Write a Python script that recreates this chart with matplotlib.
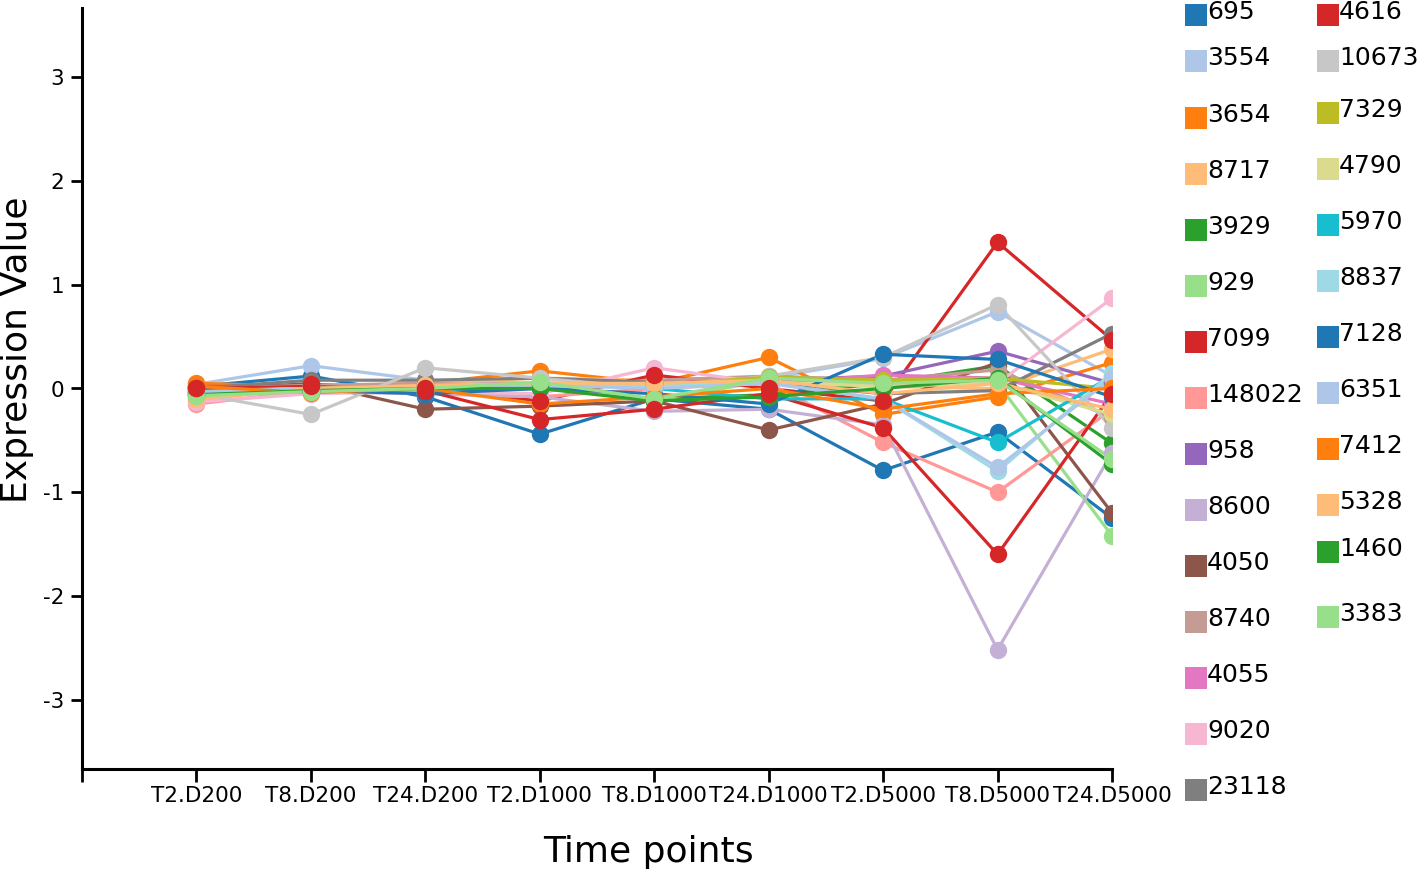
import matplotlib
matplotlib.use('Agg')
import matplotlib.pyplot as plt
from matplotlib.patches import Rectangle

time_points = ['T2.D200', 'T8.D200', 'T24.D200', 'T2.D1000', 'T8.D1000',
               'T24.D1000', 'T2.D5000', 'T8.D5000', 'T24.D5000']

genes = ['695', '3554', '3654', '8717', '3929', '929', '7099', '148022', '958',
         '8600', '4050', '8740', '4055', '9020', '23118',
         '4616', '10673', '7329', '4790', '5970', '8837', '7128', '6351',
         '7412', '5328', '1460', '3383']

# expression values per gene, one per time point
v_695 = [0.02, 0.12, -0.08, -0.44, -0.10, -0.20, -0.79, -0.42, -1.25]
v_3554 = [0.04, 0.22, 0.08, 0.05, 0.02, 0.10, 0.29, 0.74, 0.12]
v_3654 = [0.05, 0.02, 0.05, 0.17, 0.05, 0.30, -0.25, -0.08, 0.25]
v_8717 = [-0.12, 0.02, 0.05, 0.10, 0.08, 0.05, 0.02, 0.00, 0.38]
v_3929 = [-0.05, -0.03, -0.03, 0.02, -0.10, -0.06, 0.05, 0.22, -0.53]
v_929 = [-0.08, -0.02, 0.02, 0.05, -0.12, 0.08, 0.03, 0.05, -1.42]
v_7099 = [0.00, 0.04, 0.00, -0.12, 0.13, 0.00, -0.12, 1.41, 0.47]
v_148022 = [-0.15, -0.02, -0.05, -0.08, 0.00, 0.05, -0.52, -1.00, -0.20]
v_958 = [0.02, 0.02, 0.03, 0.05, 0.05, 0.08, 0.12, 0.36, 0.05]
v_8600 = [-0.05, -0.03, -0.05, -0.08, -0.22, -0.20, -0.35, -2.52, -0.62]
v_4050 = [-0.03, 0.05, -0.20, -0.17, -0.12, -0.40, -0.15, 0.25, -1.20]
v_8740 = [0.00, 0.03, 0.05, 0.02, 0.08, 0.12, 0.08, 0.18, -0.28]
v_4055 = [-0.02, 0.00, 0.00, 0.00, 0.05, 0.05, 0.13, 0.10, -0.15]
v_9020 = [-0.13, -0.05, -0.03, -0.05, 0.20, 0.05, 0.05, 0.05, 0.87]
v_23118 = [0.00, 0.08, 0.08, 0.10, 0.06, 0.05, -0.05, -0.02, 0.53]
v_4616 = [0.00, 0.02, -0.02, -0.30, -0.20, -0.05, -0.38, -1.60, -0.05]
v_10673 = [-0.05, -0.25, 0.20, 0.10, 0.00, 0.12, 0.30, 0.81, -0.38]
v_7329 = [-0.03, 0.00, 0.02, 0.05, 0.03, 0.11, 0.08, 0.10, 0.00]
v_4790 = [-0.02, 0.00, 0.00, 0.03, 0.05, 0.06, 0.02, 0.05, -0.25]
v_5970 = [-0.05, -0.02, -0.03, 0.05, 0.00, -0.10, -0.10, -0.52, 0.12]
v_8837 = [-0.03, 0.00, -0.02, 0.05, 0.02, 0.05, -0.10, -0.80, 0.15]
v_7128 = [0.00, -0.02, -0.05, 0.00, -0.05, -0.15, 0.33, 0.28, -0.08]
v_6351 = [-0.03, 0.00, 0.02, 0.03, 0.00, 0.05, -0.10, -0.76, 0.10]
v_7412 = [0.02, -0.04, 0.00, -0.15, -0.08, 0.00, -0.20, -0.05, 0.00]
v_5328 = [-0.10, 0.00, 0.03, 0.05, 0.05, 0.08, -0.05, 0.05, -0.20]
v_1460 = [-0.06, -0.02, 0.00, 0.00, -0.12, -0.08, 0.00, 0.10, -0.73]
v_3383 = [-0.07, -0.03, 0.00, 0.06, -0.10, 0.10, 0.05, 0.08, -0.68]

values = [v_695, v_3554, v_3654, v_8717, v_3929, v_929, v_7099, v_148022, v_958,
          v_8600, v_4050, v_8740, v_4055, v_9020, v_23118,
          v_4616, v_10673, v_7329, v_4790, v_5970, v_8837, v_7128, v_6351,
          v_7412, v_5328, v_1460, v_3383]

colors = ['#1f77b4', '#aec7e8', '#ff7f0e', '#ffbb78', '#2ca02c', '#98df8a',
          '#d62728', '#ff9896', '#9467bd', '#c5b0d5', '#8c564b', '#c49c94',
          '#e377c2', '#f7b6d2', '#7f7f7f',
          '#d62728', '#c7c7c7', '#bcbd22', '#dbdb8d', '#17becf', '#9edae5',
          '#1f77b4', '#aec7e8', '#ff7f0e', '#ffbb78', '#2ca02c', '#98df8a']

W, H = 1418, 872
fig = plt.figure(figsize=(W / 100, H / 100), dpi=100)
ax = fig.add_axes([82 / W, 1 - 769 / H, (1112 - 82) / W, (769 - 8) / H])

x = list(range(len(time_points)))
for vals, c in zip(values, colors):
    ax.plot(x, vals, color=c, lw=2.3, zorder=2, solid_capstyle='round')
# red genes sit on top of the dot clusters in the original
on_top = ['7099', '4616']
for g, vals, c in zip(genes, values, colors):
    z = 4 if g in on_top else 3
    ax.plot(x, vals, 'o', color=c, ms=12.5, mec='none', zorder=z)

ax.set_xlim(-1, len(time_points) - 1)
ax.set_ylim(-3.67, 3.67)
ax.set_xticks([-1] + x)
ax.set_xticklabels([''] + time_points, fontsize=15.5)
ax.set_yticks([-3, -2, -1, 0, 1, 2, 3])
ax.set_yticklabels(['-3', '-2', '-1', '0', '1', '2', '3'], fontsize=15.5)
ax.tick_params(axis='x', length=9, width=2, pad=3)
ax.tick_params(axis='y', length=8, width=2, pad=5)
for s in ['top', 'right']:
    ax.spines[s].set_visible(False)
for s in ['left', 'bottom']:
    ax.spines[s].set_linewidth(2.2)

fig.text(648 / W, 1 - 852 / H, 'Time points', fontsize=26, ha='center', va='center')
fig.text(17 / W, 1 - 350 / H, 'Expression Value', fontsize=26, rotation=90,
         ha='center', va='center')

# legend, two columns drawn by hand (text row positions in pixels)
left_rows = [12, 58] + [3 + 56 * i for i in range(2, 15)]
right_rows = [12, 58] + [-2 + 56 * i for i in range(2, 10)] + [549, 614]
n_left = len(left_rows)
for i, (g, c) in enumerate(zip(genes, colors)):
    if i < n_left:
        sx, ty = 1185, left_rows[i]
    else:
        sx, ty = 1317, right_rows[i - n_left]
    cy = ty + 3
    fig.add_artist(Rectangle((sx / W, 1 - (cy + 11) / H), 22 / W, 22 / H,
                             transform=fig.transFigure, color=c, lw=0))
    fig.text((sx + 22) / W, 1 - ty / H, g, fontsize=18,
             ha='left', va='center')

plt.savefig('out.png', dpi=100)
